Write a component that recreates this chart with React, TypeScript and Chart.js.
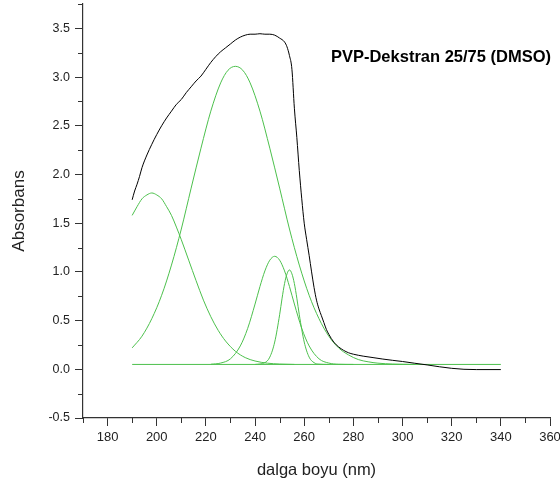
import React, { useEffect, useRef } from "react";
import { Chart, registerables } from "chart.js";

Chart.register(...registerables);

// Measured spectrum (black)
const measuredX = [190, 191, 192, 193, 194, 196, 198, 200, 202, 204, 206, 208, 210, 212, 214, 216, 218, 220, 222, 224, 226, 228, 230, 232, 234, 236, 238, 240, 242, 244, 246, 248, 250, 252, 253, 254, 255, 256, 257, 258, 259, 260, 261, 262, 263, 264, 265, 266, 267, 268, 269, 270, 272, 274, 276, 278, 280, 284, 288, 292, 296, 300, 305, 310, 315, 320, 325, 330, 340];
const measuredY = [1.74, 1.83, 1.9, 1.98, 2.07, 2.2, 2.31, 2.41, 2.5, 2.58, 2.65, 2.72, 2.77, 2.84, 2.9, 2.96, 3.01, 3.08, 3.15, 3.21, 3.26, 3.3, 3.34, 3.38, 3.41, 3.43, 3.44, 3.44, 3.445, 3.44, 3.44, 3.43, 3.4, 3.36, 3.31, 3.22, 3.08, 2.68, 2.38, 2.04, 1.75, 1.5, 1.33, 1.17, 1.0, 0.84, 0.71, 0.62, 0.55, 0.48, 0.41, 0.36, 0.28, 0.23, 0.195, 0.17, 0.155, 0.135, 0.12, 0.105, 0.092, 0.08, 0.062, 0.045, 0.026, 0.01, 0.0, -0.003, -0.003];

// Fitted components (green)
const peak1X = [190, 192, 194, 196, 198, 200, 202, 204, 206, 208, 210, 213, 216, 219, 222, 225, 228, 232, 236, 240, 245, 250, 256];
const peak1Y = [1.58, 1.67, 1.75, 1.79, 1.81, 1.79, 1.75, 1.67, 1.58, 1.46, 1.33, 1.12, 0.91, 0.71, 0.54, 0.4, 0.29, 0.185, 0.12, 0.085, 0.063, 0.054, 0.05];

const peak2X = [190, 194, 198, 202, 206, 210, 214, 218, 222, 226, 229, 232, 235, 238, 242, 246, 250, 254, 258, 262, 266, 270, 274, 278, 282, 286, 290, 296, 305];
const peak2Y = [0.22, 0.34, 0.52, 0.76, 1.07, 1.44, 1.86, 2.27, 2.65, 2.94, 3.07, 3.11, 3.07, 2.94, 2.65, 2.27, 1.86, 1.44, 1.07, 0.76, 0.52, 0.34, 0.22, 0.148, 0.1, 0.077, 0.063, 0.054, 0.05];

const peak3X = [222, 226, 230, 234, 237, 240, 242, 244, 246, 248, 250, 252, 254, 256, 259, 262, 266, 270, 274, 280];
const peak3Y = [0.052, 0.064, 0.108, 0.24, 0.42, 0.67, 0.85, 1.01, 1.12, 1.16, 1.12, 1.01, 0.85, 0.67, 0.42, 0.24, 0.108, 0.064, 0.052, 0.05];

const peak4X = [240, 244, 246, 248, 250, 251, 252, 253, 254, 255, 256, 257, 258, 260, 262, 264, 266, 270];
const peak4Y = [0.05, 0.068, 0.125, 0.28, 0.56, 0.73, 0.88, 0.98, 1.02, 0.98, 0.88, 0.73, 0.56, 0.28, 0.125, 0.068, 0.053, 0.05];

const baselineX = [190, 340];
const baselineY = [0.05, 0.05];

const chartTitle = "PVP-Dekstran 25/75 (DMSO)";
const xTitle = "dalga boyu (nm)";
const yTitle = "Absorbans";

const GREEN = "#4cc04c";
const AXIS = "#333333";

const pts = (xs: number[], ys: number[]) => xs.map((x, i) => ({ x, y: ys[i] }));

const minorTicks = {
  id: "minorTicks",
  afterDraw(chart: any) {
    const ctx = chart.ctx;
    const xs = chart.scales.x;
    const ys = chart.scales.y;
    ctx.save();
    ctx.strokeStyle = AXIS;
    ctx.lineWidth = 1;
    ctx.beginPath();
    for (let v = 170; v <= 360; v += 10) {
      if (v % 20 === 0) continue;
      const px = Math.round(xs.getPixelForValue(v)) + 0.5;
      ctx.moveTo(px, ys.bottom);
      ctx.lineTo(px, ys.bottom + 5);
    }
    for (let i = 0; i <= 17; i++) {
      const v = -0.5 + i * 0.25;
      if (i % 2 === 0) continue;
      const py = Math.round(ys.getPixelForValue(v)) + 0.5;
      ctx.moveTo(xs.left, py);
      ctx.lineTo(xs.left - 5, py);
    }
    ctx.stroke();
    ctx.fillStyle = "#000";
    ctx.font = "bold 16.5px 'Liberation Sans', Arial, sans-serif";
    ctx.textAlign = "right";
    ctx.textBaseline = "middle";
    ctx.fillText(chartTitle, chart.chartArea.right + 1, chart.chartArea.top + 53);
    ctx.restore();
  },
};

export default function App() {
  const ref = useRef<HTMLCanvasElement>(null);
  useEffect(() => {
    document.body.style.margin = "0";
    const mk = (label: string, xs: number[], ys: number[], color: string) => ({
      label,
      data: pts(xs, ys),
      borderColor: color,
      backgroundColor: color,
      borderWidth: 1,
      pointRadius: 0,
      fill: false,
      cubicInterpolationMode: "monotone" as const,
    });
    const chart = new Chart(ref.current!, {
      type: "line",
      data: {
        datasets: [
          mk("measured", measuredX, measuredY, "#000000"),
          mk("p1", peak1X, peak1Y, GREEN),
          mk("p2", peak2X, peak2Y, GREEN),
          mk("p3", peak3X, peak3Y, GREEN),
          mk("p4", peak4X, peak4Y, GREEN),
          mk("base", baselineX, baselineY, GREEN),
        ],
      },
      options: {
        animation: false,
        responsive: false,
        devicePixelRatio: 1,
        layout: { padding: { top: 4, right: 10, left: 0, bottom: 0 } },
        plugins: { legend: { display: false }, tooltip: { enabled: false } },
        scales: {
          x: {
            type: "linear",
            min: 170,
            max: 360,
            border: { color: AXIS, width: 1.2 },
            grid: {
              drawOnChartArea: false,
              drawTicks: true,
              tickLength: 8,
              tickColor: (c: any) => (c.tick && c.tick.value % 20 === 0 ? AXIS : "rgba(0,0,0,0)"),
            },
            ticks: {
              stepSize: 10,
              autoSkip: false,
              maxRotation: 0,
              padding: 4,
              color: "#222",
              font: { family: "'Liberation Sans', Arial, sans-serif", size: 13 },
              callback: (v: any) => (Number(v) % 20 === 0 ? String(v) : ""),
            },
            title: {
              display: true,
              text: xTitle,
              color: "#222",
              font: { family: "'Liberation Sans', Arial, sans-serif", size: 16.5 },
              padding: { top: 0, bottom: 6 },
            },
            afterFit: (s: any) => {
              s.height = 68;
              s.paddingLeft = 0;
              s.paddingRight = 0;
            },
          },
          y: {
            type: "linear",
            min: -0.5,
            max: 3.75,
            border: { color: AXIS, width: 1.2 },
            grid: {
              drawOnChartArea: false,
              drawTicks: true,
              tickLength: 8,
              tickColor: (c: any) =>
                c.tick && Math.abs((c.tick.value * 2) - Math.round(c.tick.value * 2)) < 1e-6 ? AXIS : "rgba(0,0,0,0)",
            },
            ticks: {
              stepSize: 0.25,
              autoSkip: false,
              padding: 5,
              color: "#222",
              font: { family: "'Liberation Sans', Arial, sans-serif", size: 12.5 },
              callback: (v: any) => {
                const n = Number(v);
                return Math.abs(n * 2 - Math.round(n * 2)) < 1e-6 ? n.toFixed(1) : "";
              },
            },
            title: {
              display: true,
              text: yTitle,
              color: "#222",
              font: { family: "'Liberation Sans', Arial, sans-serif", size: 17 },
              padding: { top: 9, bottom: 0 },
            },
            afterFit: (s: any) => {
              s.width = 83;
              s.paddingTop = 0;
              s.paddingBottom = 0;
            },
          },
        },
      },
      plugins: [minorTicks],
    } as any);
    return () => chart.destroy();
  }, []);
  return (
    <div style={{ width: 560, height: 486 }}>
      <canvas ref={ref} width={560} height={486} style={{ display: "block" }} />
    </div>
  );
}
